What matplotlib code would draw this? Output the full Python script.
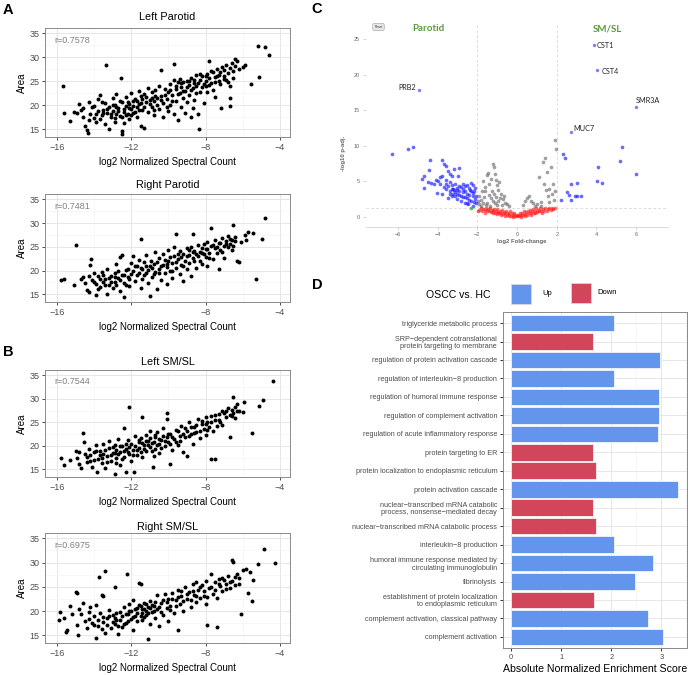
import matplotlib.pyplot as plt
from matplotlib.patches import Rectangle

plt.rcParams['font.family'] = ['Liberation Sans', 'DejaVu Sans']

# ---- Data ----------------------------------------------------------------
# A / B: log2 normalized spectral count vs. area, one list of (x, y) per gland
left_parotid = [
    (-15.7, 24.1), (-15.6, 18.4), (-15.3, 16.8), (-15.1, 18.7), (-14.9, 18.3), (-14.8, 20.2),
    (-14.7, 19.0), (-14.6, 17.6), (-14.5, 15.7), (-14.4, 14.9), (-14.35, 14.2), (-14.3, 20.6),
    (-14.2, 18.1), (-14.1, 19.6), (-14.0, 17.3), (-13.9, 16.6), (-13.8, 21.3), (-13.8, 18.8),
    (-13.7, 22.2), (-13.6, 17.9), (-13.5, 19.1), (-13.4, 16.2), (-13.4, 20.4), (-13.38, 28.3),
    (-13.3, 18.4), (-13.2, 15.0), (-13.2, 19.7), (-13.1, 17.5), (-13.0, 21.6), (-13.0, 18.9),
    (-12.9, 16.6), (-12.9, 20.1), (-12.8, 18.2), (-12.8, 22.4), (-12.7, 19.4), (-12.6, 17.8),
    (-12.55, 25.6), (-12.5, 14.1), (-12.5, 14.7), (-12.5, 20.7), (-12.4, 18.6), (-12.4, 16.3),
    (-12.3, 19.9), (-12.3, 21.8), (-12.2, 18.1), (-12.1, 20.3), (-12.1, 17.1), (-12.0, 19.2),
    (-12.0, 22.6), (-11.9, 20.9), (-11.9, 18.4), (-11.8, 21.4), (-11.7, 19.6), (-11.7, 17.6),
    (-11.6, 23.0), (-11.6, 20.2), (-11.5, 15.6), (-11.5, 21.9), (-11.4, 19.0), (-11.3, 15.3),
    (-11.3, 22.3), (-11.2, 20.6), (-11.1, 18.6), (-11.1, 23.6), (-11.0, 21.1), (-10.9, 19.7),
    (-10.9, 22.8), (-10.8, 17.9), (-10.8, 20.8), (-10.7, 23.2), (-10.6, 21.6), (-10.5, 19.2),
    (-10.5, 24.1), (-10.4, 27.3), (-10.4, 22.0), (-10.3, 20.4), (-10.3, 17.5), (-10.2, 23.5),
    (-10.1, 21.3), (-10.0, 18.8), (-10.0, 22.7), (-9.9, 24.4), (-9.9, 20.1), (-9.8, 22.1),
    (-9.7, 28.7), (-9.7, 25.2), (-9.7, 18.1), (-9.6, 23.3), (-9.6, 20.9), (-9.5, 24.8),
    (-9.5, 17.0), (-9.4, 22.6), (-9.4, 25.4), (-9.3, 19.6), (-9.3, 23.9), (-9.2, 21.6),
    (-9.2, 24.9), (-9.1, 18.4), (-9.1, 23.0), (-9.0, 25.1), (-9.0, 20.6), (-8.9, 24.2),
    (-8.9, 22.2), (-8.8, 17.6), (-8.8, 25.7), (-8.7, 23.6), (-8.7, 19.4), (-8.6, 24.7),
    (-8.6, 21.2), (-8.5, 26.4), (-8.5, 24.0), (-8.4, 18.1), (-8.37, 15.1), (-8.3, 25.2),
    (-8.3, 22.8), (-8.2, 23.9), (-8.2, 26.0), (-8.1, 20.5), (-8.0, 25.0), (-8.0, 24.1),
    (-7.9, 26.6), (-7.9, 22.7), (-7.8, 29.2), (-7.8, 25.6), (-7.7, 24.6), (-7.6, 26.9),
    (-7.6, 23.2), (-7.5, 25.9), (-7.5, 21.7), (-7.4, 27.6), (-7.3, 25.1), (-7.3, 26.3),
    (-7.2, 24.4), (-7.15, 19.5), (-7.1, 27.9), (-7.0, 26.1), (-7.0, 25.4), (-6.9, 28.4),
    (-6.8, 24.9), (-6.8, 26.8), (-6.7, 24.0), (-6.7, 21.5), (-6.66, 19.9), (-6.6, 28.9),
    (-6.5, 27.2), (-6.5, 25.6), (-6.43, 29.6), (-6.3, 29.3), (-6.2, 27.6), (-6.0, 28.0),
    (-5.9, 28.3), (-5.53, 24.4), (-5.12, 25.8), (-5.17, 32.4), (-4.8, 32.1), (-4.6, 30.4),
    (-14.6, 19.5), (-14.3, 17.0), (-14.0, 19.9), (-13.9, 18.2), (-13.7, 17.1), (-13.6, 20.6),
    (-13.5, 18.5), (-13.3, 19.3), (-13.1, 18.1), (-13.0, 20.0), (-12.9, 17.3), (-12.8, 19.7),
    (-12.7, 18.8), (-12.6, 20.9), (-12.5, 17.5), (-12.4, 19.3), (-12.3, 18.0), (-12.2, 20.6),
    (-12.1, 19.5), (-12.0, 18.0), (-11.9, 19.8), (-11.8, 18.7), (-11.7, 21.0), (-11.6, 19.0),
    (-11.5, 20.5), (-11.4, 21.3), (-11.3, 19.6), (-11.2, 21.8), (-11.0, 20.2), (-10.9, 21.6),
    (-10.8, 19.1), (-10.7, 22.0), (-10.6, 20.1), (-10.4, 21.1), (-10.2, 22.1), (-10.1, 19.6),
    (-9.9, 23.2), (-9.8, 21.0), (-9.6, 24.0), (-9.5, 22.3), (-9.3, 24.6), (-9.2, 22.9),
    (-9.0, 23.8), (-8.9, 25.0), (-8.8, 23.2), (-8.6, 25.3), (-8.5, 22.5), (-8.4, 24.6),
    (-8.3, 26.5), (-8.1, 24.5), (-8.0, 26.2), (-7.8, 24.2), (-7.7, 27.2), (-7.5, 24.8),
    (-7.4, 26.2), (-7.2, 27.0), (-7.0, 27.3), (-6.9, 25.2), (-6.7, 27.8), (-6.4, 28.2),
]

right_parotid = [
    (-15.8, 18.0), (-15.6, 18.3), (-15.1, 17.0), (-15.0, 25.3), (-14.7, 18.2), (-14.6, 18.6),
    (-14.4, 16.0), (-14.3, 15.6), (-14.2, 21.1), (-14.15, 22.5), (-14.1, 18.0), (-14.0, 19.4),
    (-13.9, 14.9), (-13.9, 17.2), (-13.8, 18.8), (-13.7, 16.6), (-13.6, 19.8), (-13.5, 17.6),
    (-13.4, 18.3), (-13.3, 15.1), (-13.3, 20.4), (-13.2, 17.0), (-13.1, 18.9), (-13.0, 16.3),
    (-12.9, 19.5), (-12.9, 17.7), (-12.8, 21.3), (-12.7, 18.4), (-12.6, 15.8), (-12.6, 22.8),
    (-12.5, 19.1), (-12.5, 23.3), (-12.4, 14.4), (-12.4, 17.3), (-12.3, 20.2), (-12.2, 18.7),
    (-12.1, 16.7), (-12.0, 21.6), (-12.0, 19.3), (-11.9, 23.1), (-11.8, 17.9), (-11.7, 20.9),
    (-11.7, 19.0), (-11.6, 22.3), (-11.5, 16.4), (-11.46, 26.7), (-11.4, 20.3), (-11.4, 18.2),
    (-11.3, 21.8), (-11.2, 19.6), (-11.2, 23.3), (-11.1, 17.3), (-11.0, 20.9), (-11.0, 14.7),
    (-10.95, 22.0), (-10.9, 18.7), (-10.8, 21.4), (-10.7, 19.8), (-10.7, 24.0), (-10.6, 16.2),
    (-10.5, 22.6), (-10.5, 20.3), (-10.4, 18.0), (-10.3, 21.2), (-10.3, 23.4), (-10.2, 19.4),
    (-10.1, 20.8), (-10.1, 17.1), (-10.0, 22.1), (-10.0, 24.4), (-9.9, 20.0), (-9.8, 21.6),
    (-9.8, 18.4), (-9.7, 23.0), (-9.7, 25.0), (-9.6, 27.7), (-9.6, 20.6), (-9.5, 22.4),
    (-9.4, 19.3), (-9.4, 24.1), (-9.3, 21.2), (-9.2, 23.5), (-9.2, 17.9), (-9.1, 22.0),
    (-9.0, 24.7), (-9.0, 20.4), (-8.9, 23.2), (-8.9, 21.5), (-8.8, 18.8), (-8.8, 25.0),
    (-8.7, 27.7), (-8.7, 22.6), (-8.6, 24.1), (-8.5, 23.4), (-8.5, 20.6), (-8.4, 25.3),
    (-8.3, 22.1), (-8.3, 24.0), (-8.2, 21.3), (-8.2, 23.8), (-8.1, 25.6), (-8.0, 22.9),
    (-8.0, 24.6), (-7.9, 21.0), (-7.9, 26.0), (-7.8, 23.8), (-7.7, 28.9), (-7.7, 25.2),
    (-7.6, 22.5), (-7.5, 24.7), (-7.5, 26.4), (-7.4, 23.6), (-7.3, 20.4), (-7.3, 25.7),
    (-7.2, 24.3), (-7.1, 26.8), (-7.0, 25.1), (-7.0, 22.7), (-6.9, 26.2), (-6.8, 24.9),
    (-6.8, 27.2), (-6.7, 25.6), (-6.6, 26.5), (-6.5, 29.5), (-6.5, 25.1), (-6.4, 27.0),
    (-6.3, 22.0), (-6.2, 21.9), (-6.1, 26.1), (-5.9, 27.5), (-5.8, 26.5), (-5.7, 28.2),
    (-5.45, 28.0), (-5.3, 18.3), (-4.95, 26.7), (-4.8, 31.1),
    (-14.5, 17.4), (-14.3, 18.9), (-14.0, 17.6), (-13.8, 16.1), (-13.7, 18.3), (-13.5, 19.0),
    (-13.4, 16.9), (-13.2, 18.5), (-13.1, 17.6), (-12.9, 18.6), (-12.8, 16.9), (-12.7, 19.9),
    (-12.6, 18.0), (-12.4, 19.0), (-12.3, 17.0), (-12.2, 20.3), (-12.1, 18.3), (-11.9, 19.9),
    (-11.8, 21.0), (-11.6, 19.5), (-11.5, 20.6), (-11.3, 19.1), (-11.2, 21.0), (-11.1, 20.1),
    (-10.9, 20.5), (-10.8, 19.2), (-10.6, 21.8), (-10.5, 19.6), (-10.4, 20.9), (-10.2, 22.2),
    (-10.1, 21.4), (-9.9, 22.8), (-9.8, 19.9), (-9.6, 21.9), (-9.5, 23.5), (-9.3, 22.8),
    (-9.2, 20.9), (-9.0, 23.0), (-8.9, 24.4), (-8.7, 23.9), (-8.6, 22.0), (-8.4, 23.1),
    (-8.2, 24.8), (-8.1, 23.5), (-7.9, 24.5), (-7.8, 22.7), (-7.6, 25.4), (-7.4, 24.9),
    (-7.2, 25.8), (-7.1, 24.0), (-6.9, 25.5), (-6.7, 26.7), (-6.6, 24.4), (-6.4, 26.3),
]

left_smsl = [
    (-15.77, 17.5), (-15.6, 16.0), (-15.3, 17.1), (-15.0, 18.9), (-14.9, 17.4), (-14.8, 16.2),
    (-14.7, 15.3), (-14.6, 22.7), (-14.55, 20.9), (-14.5, 18.3), (-14.4, 17.6), (-14.3, 19.4),
    (-14.2, 16.8), (-14.1, 15.6), (-14.0, 18.7), (-13.9, 20.1), (-13.85, 14.4), (-13.8, 17.3),
    (-13.7, 19.0), (-13.6, 16.4), (-13.5, 20.4), (-13.5, 18.2), (-13.4, 15.4), (-13.3, 17.8),
    (-13.2, 19.6), (-13.2, 21.0), (-13.1, 16.9), (-13.0, 18.5), (-12.9, 14.0), (-12.9, 20.2),
    (-12.8, 17.4), (-12.8, 19.1), (-12.7, 21.5), (-12.6, 16.0), (-12.6, 18.7), (-12.5, 20.0),
    (-12.4, 23.7), (-12.4, 17.7), (-12.3, 19.4), (-12.27, 14.5), (-12.2, 21.2), (-12.1, 28.2),
    (-12.1, 18.3), (-12.0, 20.5), (-12.0, 16.7), (-11.9, 19.2), (-11.85, 14.5), (-11.8, 22.1),
    (-11.7, 18.0), (-11.6, 20.8), (-11.6, 19.5), (-11.5, 21.7), (-11.4, 26.1), (-11.4, 17.6),
    (-11.3, 20.2), (-11.2, 22.4), (-11.2, 18.9), (-11.1, 21.0), (-11.0, 19.7), (-11.0, 23.2),
    (-10.9, 20.6), (-10.85, 15.6), (-10.8, 17.8), (-10.7, 21.8), (-10.7, 19.3), (-10.6, 22.9),
    (-10.5, 20.5), (-10.5, 18.4), (-10.4, 21.3), (-10.3, 23.8), (-10.2, 19.9), (-10.1, 26.9),
    (-10.1, 25.8), (-10.1, 21.9), (-10.0, 20.8), (-9.9, 16.1), (-9.9, 22.5), (-9.8, 19.2),
    (-9.7, 21.4), (-9.6, 23.4), (-9.5, 20.2), (-9.4, 22.2), (-9.3, 24.3), (-9.2, 18.7),
    (-9.1, 21.8), (-9.0, 17.9), (-9.0, 23.1), (-8.9, 25.0), (-8.8, 22.5), (-8.7, 20.3),
    (-8.6, 24.1), (-8.5, 23.0), (-8.4, 25.6), (-8.3, 21.6), (-8.2, 24.7), (-8.1, 23.5),
    (-8.0, 26.1), (-8.0, 22.3), (-7.9, 25.0), (-7.8, 24.0), (-7.7, 17.3), (-7.7, 26.3),
    (-7.6, 23.2), (-7.5, 25.5), (-7.47, 17.3), (-7.4, 24.3), (-7.3, 26.8), (-7.2, 25.1),
    (-7.1, 24.5), (-7.0, 27.0), (-6.9, 26.2), (-6.8, 28.0), (-6.7, 21.8), (-6.7, 26.6),
    (-6.6, 27.6), (-6.5, 30.4), (-6.5, 27.0), (-6.4, 28.3), (-6.4, 26.0), (-6.3, 28.8),
    (-6.2, 27.3), (-6.0, 27.1), (-5.95, 29.3), (-5.5, 22.8), (-5.14, 28.5), (-4.9, 29.7),
    (-4.35, 33.7),
    (-14.8, 18.6), (-14.4, 16.6), (-14.2, 18.0), (-14.0, 17.1), (-13.9, 19.0), (-13.7, 18.1),
    (-13.6, 17.4), (-13.4, 19.2), (-13.3, 16.6), (-13.1, 18.0), (-13.0, 19.8), (-12.9, 18.5),
    (-12.8, 16.3), (-12.7, 18.2), (-12.6, 19.9), (-12.5, 17.3), (-12.4, 19.0), (-12.3, 20.5),
    (-12.2, 18.6), (-12.1, 19.8), (-11.9, 18.0), (-11.8, 20.0), (-11.7, 19.1), (-11.6, 21.3),
    (-11.5, 18.6), (-11.4, 20.6), (-11.3, 19.3), (-11.2, 21.0), (-11.1, 20.2), (-11.0, 21.6),
    (-10.9, 19.0), (-10.8, 20.9), (-10.7, 22.4), (-10.6, 20.2), (-10.5, 21.4), (-10.4, 19.6),
    (-10.3, 22.0), (-10.2, 21.0), (-10.0, 22.6), (-9.9, 20.4), (-9.8, 21.9), (-9.6, 20.8),
    (-9.5, 23.1), (-9.4, 21.0), (-9.2, 22.6), (-9.1, 23.7), (-8.9, 22.0), (-8.8, 24.0),
    (-8.6, 22.8), (-8.5, 24.5), (-8.3, 23.2), (-8.2, 25.3), (-8.0, 24.6), (-7.9, 23.3),
    (-7.7, 25.0), (-7.5, 26.5), (-7.3, 25.4), (-7.1, 27.5), (-6.9, 27.5), (-6.6, 26.3),
    (-6.3, 27.4),
]

right_smsl = [
    (-15.87, 18.2), (-15.86, 19.8), (-15.6, 18.6), (-15.5, 15.7), (-15.45, 16.0), (-15.3, 21.0),
    (-15.2, 19.4), (-15.0, 24.0), (-14.95, 23.7), (-14.9, 17.1), (-14.85, 15.1), (-14.8, 20.5),
    (-14.7, 19.3), (-14.6, 21.6), (-14.5, 18.0), (-14.4, 16.4), (-14.3, 19.9), (-14.2, 20.9),
    (-14.1, 17.5), (-14.0, 18.9), (-13.9, 14.5), (-13.9, 21.2), (-13.8, 16.9), (-13.74, 27.0),
    (-13.7, 19.5), (-13.6, 23.3), (-13.55, 23.1), (-13.5, 17.8), (-13.4, 28.2), (-13.4, 15.5),
    (-13.3, 18.6), (-13.2, 20.2), (-13.1, 16.4), (-13.0, 19.1), (-12.9, 24.9), (-12.9, 17.3),
    (-12.8, 18.1), (-12.7, 15.2), (-12.6, 19.8), (-12.5, 16.8), (-12.5, 18.9), (-12.4, 20.8),
    (-12.3, 17.6), (-12.25, 27.6), (-12.2, 19.3), (-12.1, 21.5), (-12.0, 18.4), (-12.0, 20.1),
    (-11.9, 16.0), (-11.9, 22.2), (-11.8, 19.0), (-11.7, 20.6), (-11.7, 17.9), (-11.6, 25.7),
    (-11.5, 25.6), (-11.5, 21.0), (-11.4, 19.6), (-11.4, 18.2), (-11.3, 20.4), (-11.2, 21.4),
    (-11.2, 19.1), (-11.1, 14.3), (-11.1, 20.8), (-11.0, 22.0), (-11.0, 17.4), (-10.9, 19.9),
    (-10.8, 21.0), (-10.7, 18.6), (-10.6, 20.4), (-10.6, 23.4), (-10.5, 16.9), (-10.4, 21.7),
    (-10.3, 19.2), (-10.2, 23.6), (-10.1, 20.6), (-10.0, 18.0), (-10.0, 22.5), (-9.9, 21.0),
    (-9.8, 23.8), (-9.7, 19.6), (-9.6, 22.3), (-9.5, 16.1), (-9.5, 24.3), (-9.4, 21.5),
    (-9.3, 23.0), (-9.2, 20.1), (-9.1, 25.0), (-9.0, 22.4), (-8.9, 24.0), (-8.8, 20.8),
    (-8.7, 25.5), (-8.6, 23.3), (-8.5, 21.8), (-8.5, 26.0), (-8.4, 24.4), (-8.3, 22.6),
    (-8.2, 25.3), (-8.1, 23.0), (-8.0, 26.2), (-8.0, 21.4), (-7.9, 17.1), (-7.8, 24.7),
    (-7.7, 27.6), (-7.6, 23.6), (-7.5, 25.9), (-7.4, 22.7), (-7.36, 16.6), (-7.3, 26.6),
    (-7.2, 25.2), (-7.1, 24.1), (-7.0, 26.5), (-6.9, 25.6), (-6.8, 27.2), (-6.7, 24.8),
    (-6.6, 26.1), (-6.55, 30.6), (-6.5, 30.2), (-6.4, 25.4), (-6.3, 27.7), (-6.2, 26.8),
    (-6.07, 19.4), (-6.0, 28.4), (-5.8, 28.6), (-5.7, 23.8), (-5.6, 28.1), (-5.5, 22.1),
    (-5.43, 26.4), (-5.17, 29.6), (-4.87, 32.8), (-4.28, 30.0),
    (-14.3, 18.4), (-14.0, 17.2), (-13.8, 18.1), (-13.6, 16.3), (-13.5, 18.8), (-13.3, 17.2),
    (-13.2, 19.0), (-13.0, 17.8), (-12.9, 18.6), (-12.8, 19.5), (-12.7, 17.0), (-12.6, 18.2),
    (-12.4, 17.4), (-12.3, 19.4), (-12.2, 18.0), (-12.1, 20.0), (-11.9, 18.8), (-11.8, 20.4),
    (-11.7, 19.5), (-11.6, 21.2), (-11.5, 19.0), (-11.4, 20.5), (-11.3, 21.6), (-11.3, 18.8),
    (-11.2, 20.0), (-11.1, 19.5), (-11.0, 20.6), (-10.9, 21.3), (-10.8, 20.1), (-10.7, 21.9),
    (-10.5, 20.9), (-10.4, 19.8), (-10.3, 22.3), (-10.1, 21.8), (-9.9, 20.2), (-9.8, 22.4),
    (-9.6, 21.0), (-9.5, 22.8), (-9.3, 24.2), (-9.2, 22.0), (-9.0, 23.6), (-8.8, 22.2),
    (-8.7, 24.2), (-8.5, 23.0), (-8.3, 25.0), (-8.1, 24.2), (-7.9, 22.9), (-7.7, 25.0),
    (-7.5, 24.3), (-7.3, 25.5), (-7.1, 26.8), (-6.9, 24.6), (-6.7, 26.0), (-6.4, 27.0),
    (-6.2, 25.5),
]

r_values = ["r=0.7578", "r=0.7481", "r=0.7544", "r=0.6975"]
gland_titles = ["Left Parotid", "Right Parotid", "Left SM/SL", "Right SM/SL"]

# C: volcano plot, (log2 fold-change, -log10 p-adj.)
volcano_blue = [
    (-6.3, 8.8), (-5.5, 9.6), (-5.25, 9.9), (-4.4, 8.0), (-4.45, 6.6), (-4.8, 5.4), (-4.7, 5.7),
    (-4.5, 4.9), (-4.1, 5.2), (-4.05, 3.4), (-4.7, 4.1), (-4.35, 4.8), (-3.8, 8.0), (-3.7, 7.5),
    (-3.6, 7.2), (-3.5, 6.5), (-3.4, 6.0), (-3.15, 6.8), (-2.9, 6.9), (-3.3, 5.8), (-3.8, 5.7),
    (-4.0, 5.0), (-3.9, 4.6), (-3.7, 4.2), (-3.6, 3.9), (-3.5, 4.4), (-3.4, 3.6), (-3.3, 4.0),
    (-3.2, 3.3), (-3.1, 4.6), (-3.0, 3.8), (-2.95, 5.7), (-2.9, 3.1), (-2.8, 4.2), (-2.7, 3.5),
    (-2.6, 2.8), (-2.5, 4.5), (-2.5, 3.2), (-2.4, 2.4), (-2.3, 4.8), (-2.3, 3.6), (-2.2, 2.9),
    (-2.15, 2.1), (-2.1, 4.1), (-2.05, 3.0), (-3.0, 2.5), (-2.8, 2.2), (-3.5, 2.7), (-3.8, 3.2),
    (-3.15, 3.8), (-2.7, 3.9), (-2.6, 4.4), (-3.3, 3.0), (-2.45, 1.8), (-2.2, 1.6), (-4.2, 4.6),
    (-3.9, 5.6), (-3.6, 5.2), (-2.35, 3.8), (-2.9, 4.3), (-3.4, 4.9), (-2.6, 2.0), (-3.1, 2.9),
    (-3.3, 4.5), (-3.2, 3.9), (-3.1, 3.5), (-3.0, 4.1), (-2.9, 3.6), (-2.8, 3.0), (-2.7, 4.6),
    (-2.6, 3.6), (-2.5, 2.6), (-2.4, 3.1), (-2.3, 2.2), (-2.2, 3.4), (-2.1, 2.5), (-2.05, 1.9),
    (-2.4, 4.1), (-2.7, 2.8), (-3.4, 3.2), (-3.6, 4.6), (-3.0, 3.3), (-2.2, 4.5), (-2.5, 2.0),
    (-2.15, 3.7),
    (2.3, 8.8), (2.4, 8.3), (2.7, 4.6), (3.0, 4.8), (2.5, 3.5), (2.6, 3.1), (2.2, 2.4),
    (2.7, 2.4), (2.9, 3.0), (3.0, 2.9), (3.2, 2.9), (4.1, 7.0), (4.05, 5.0), (4.3, 4.8),
    (5.2, 7.8), (5.3, 9.9), (6.0, 6.0),
]
volcano_gray = [
    (-1.9, 3.0), (-1.8, 2.4), (-1.7, 1.9), (-1.6, 3.6), (-1.5, 5.9), (-1.45, 6.2), (-1.3, 5.4),
    (-1.2, 7.4), (-1.15, 7.0), (-1.1, 6.0), (-1.05, 5.2), (-1.0, 4.5), (-0.95, 3.8), (-0.9, 4.9),
    (-0.85, 2.7), (-0.8, 3.3), (-0.7, 2.5), (-0.6, 2.0), (-0.5, 1.8), (-0.4, 1.6), (-1.7, 5.0),
    (-1.6, 4.2), (-1.4, 3.1), (-1.3, 2.6), (-1.2, 2.2), (-1.1, 1.9), (-1.0, 1.7), (-1.9, 1.8),
    (-1.8, 1.6), (-1.5, 2.0), (-1.4, 4.6), (-1.25, 3.7), (-1.15, 3.2), (-0.95, 2.3), (-0.75, 1.7),
    (-1.55, 1.7), (-1.35, 1.5), (-1.65, 2.8), (-0.65, 2.9), (-1.75, 3.7), (-1.95, 2.2), (-1.05, 2.8),
    (0.3, 1.7), (0.5, 2.6), (0.6, 3.0), (0.7, 2.2), (0.8, 1.9), (0.9, 1.6), (1.0, 1.8),
    (1.1, 5.6), (1.2, 1.5), (1.3, 7.7), (1.4, 8.3), (1.45, 3.8), (1.5, 6.3), (1.55, 2.9),
    (1.6, 4.0), (1.7, 7.0), (1.75, 3.3), (1.8, 4.6), (1.85, 2.4), (1.9, 10.8), (1.95, 9.6),
    (1.9, 3.7), (1.6, 2.1), (0.4, 2.2), (1.35, 4.6), (1.2, 2.1),
]
volcano_red = [
    (-1.9, 1.0), (-1.8, 1.2), (-1.75, 0.9), (-1.7, 1.1), (-1.6, 1.0), (-1.55, 1.25), (-1.5, 0.8),
    (-1.45, 1.1), (-1.4, 0.9), (-1.35, 1.2), (-1.3, 0.7), (-1.25, 1.0), (-1.2, 0.8), (-1.15, 1.15),
    (-1.1, 0.6), (-1.05, 0.9), (-1.0, 1.1), (-0.95, 0.7), (-0.9, 0.5), (-0.85, 0.9), (-0.8, 0.6),
    (-0.75, 1.0), (-0.7, 0.4), (-0.65, 0.7), (-0.6, 0.5), (-0.55, 0.9), (-0.5, 0.3), (-0.45, 0.6),
    (-0.4, 0.4), (-0.35, 0.8), (-0.3, 0.2), (-0.25, 0.5), (-0.2, 0.3), (-0.15, 0.6), (-0.1, 0.15),
    (-0.05, 0.35), (0.0, 0.1), (0.05, 0.3), (0.1, 0.2), (0.15, 0.5), (0.2, 0.25), (0.25, 0.6),
    (0.3, 0.35), (0.35, 0.8), (0.4, 0.45), (0.45, 0.7), (0.5, 0.3), (0.55, 0.9), (0.6, 0.5),
    (0.65, 1.0), (0.7, 0.6), (0.75, 0.8), (0.8, 1.1), (0.85, 0.5), (0.9, 0.9), (0.95, 1.2),
    (1.0, 0.7), (1.05, 1.0), (1.1, 0.8), (1.15, 1.2), (1.2, 0.9), (1.3, 1.1), (1.35, 0.8),
    (1.4, 1.2), (1.5, 0.9), (1.55, 1.1), (1.6, 1.3), (1.7, 1.0), (1.75, 1.2), (1.8, 1.1),
    (1.9, 1.25), (-0.6, 0.2), (-0.4, 0.1), (-0.2, 0.05), (0.2, 0.05), (0.4, 0.15), (-1.0, 0.4),
    (-0.8, 0.3), (0.7, 0.3), (0.9, 0.5), (-1.2, 0.5), (1.25, 0.5), (-1.6, 0.6), (-1.95, 0.9),
]
volcano_green = [(-2.3, 1.2)]
gene_names = ["CST1", "CST4", "PRB2", "SMR3A", "MUC7"]
gene_fc = [3.85, 4.05, -4.95, 6.0, 2.7]
gene_p = [24.1, 20.6, 17.8, 15.5, 11.9]

# D: GSEA, OSCC vs. HC
go_terms = [
    "triglyceride metabolic process",
    "SRP\u2212dependent cotranslational\nprotein targeting to membrane",
    "regulation of protein activation cascade",
    "regulation of interleukin\u22128 production",
    "regulation of humoral immune response",
    "regulation of complement activation",
    "regulation of acute inflammatory response",
    "protein targeting to ER",
    "protein localization to endoplasmic reticulum",
    "protein activation cascade",
    "nuclear\u2212transcribed mRNA catabolic\nprocess, nonsense\u2212mediated decay",
    "nuclear\u2212transcribed mRNA catabolic process",
    "interleukin\u22128 production",
    "humoral immune response mediated by\ncirculating immunoglobulin",
    "fibrinolysis",
    "establishment of protein localization\nto endoplasmic reticulum",
    "complement activation, classical pathway",
    "complement activation",
]
go_nes = [2.05, 1.63, 2.97, 2.05, 2.95, 2.95, 2.93, 1.64, 1.69,
          3.34, 1.64, 1.69, 2.05, 2.84, 2.47, 1.66, 2.74, 3.03]
go_dir = ["Up", "Down", "Up", "Up", "Up", "Up", "Up", "Down", "Down",
          "Up", "Down", "Down", "Up", "Up", "Up", "Down", "Up", "Up"]

UP, DOWN = "#6495ED", "#D1465B"

# ---- Figure setup --------------------------------------------------------
W, H = 690, 675
fig = plt.figure(figsize=(W / 100, H / 100), dpi=100)


def box(l, t, r, b):
    return [l / W, 1 - b / H, (r - l) / W, (b - t) / H]


def fx(x):
    return x / W


def fy(y):
    return 1 - y / H


# ---- A / B scatter panels ------------------------------------------------
scatter_boxes = [(45, 28, 290, 137), (45, 194, 290, 302),
                 (45, 370, 290, 477), (45, 533, 290, 643)]
title_ys = [17, 185, 362, 527]
datasets = [left_parotid, right_parotid, left_smsl, right_smsl]

for i, (rect, pts) in enumerate(zip(scatter_boxes, datasets)):
    ax = fig.add_axes(box(*rect))
    xs = [p[0] for p in pts]
    ys = [p[1] for p in pts]
    ax.scatter(xs, ys, s=8, c="black", linewidths=0, zorder=3)
    ax.set_xlim(-16.65, -3.45)
    ax.set_ylim(13.4, 36.1)
    ax.set_xticks([-16, -12, -8, -4])
    xl = ["\u221216", "\u221212", "\u22128", "\u22124"]
    if i == 1:
        xl[1] = ""          # label is missing in the source figure
    ax.set_xticklabels(xl)
    ax.set_xticks([-14, -10, -6], minor=True)
    ax.set_yticks([15, 20, 25, 30, 35])
    ax.set_yticks([17.5, 22.5, 27.5, 32.5], minor=True)
    ax.grid(which="major", color="#e6e6e6", linewidth=0.7)
    ax.grid(which="minor", color="#f2f2f2", linewidth=0.4)
    ax.set_axisbelow(True)
    ax.tick_params(which="minor", length=0)
    ax.tick_params(which="major", length=2.5, width=0.6, color="#333333",
                   labelsize=6.5, labelcolor="#4d4d4d", pad=1.5)
    for sp in ax.spines.values():
        sp.set_color("#8a8a8a")
        sp.set_linewidth(0.7)
    ax.set_xlabel("log2 Normalized Spectral Count", fontsize=7, labelpad=4)
    ax.set_ylabel("Area", fontsize=7, labelpad=2)
    ax.text(0.04, 0.93, r_values[i], transform=ax.transAxes, fontsize=6.5,
            color="#808080", va="top")
    fig.text(fx(167.5), fy(title_ys[i]), gland_titles[i], fontsize=7.8,
             ha="center", va="center")

# ---- C volcano -----------------------------------------------------------
axC = fig.add_axes(box(365.7, 23.3, 668, 226.7))
for pts, col, a in [(volcano_red, "#ff1414", 0.6), (volcano_gray, "#555555", 0.55),
                    (volcano_blue, "#1a1aff", 0.65), (volcano_green, "#3aa63a", 0.8)]:
    axC.scatter([p[0] for p in pts], [p[1] for p in pts], s=7, c=col,
                alpha=a, linewidths=0, zorder=3)
axC.scatter(gene_fc, gene_p, s=6, c="#7f7fff", linewidths=0, zorder=3)
offsets = {"CST1": (0.17, 0.0, "left"), "CST4": (0.19, -0.1, "left"),
           "PRB2": (-0.16, 0.4, "right"), "SMR3A": (-0.02, 0.8, "left"),
           "MUC7": (0.14, 0.5, "left")}
for name, gx, gy in zip(gene_names, gene_fc, gene_p):
    dx, dy, ha = offsets[name]
    axC.text(gx + dx, gy + dy, name, fontsize=5.2, ha=ha, va="center",
             family=["Lato", "DejaVu Sans"], color="#222222")
axC.axvline(-2, color="#d0d0d0", lw=0.5, ls=(0, (4, 3)), zorder=1)
axC.axvline(2, color="#d0d0d0", lw=0.5, ls=(0, (4, 3)), zorder=1)
axC.axhline(1.3, color="#d0d0d0", lw=0.5, ls=(0, (4, 3)), zorder=1)
axC.set_xlim(-7.62, 7.6)
axC.set_ylim(-1.36, 27.2)
axC.set_xticks([-6, -4, -2, 0, 2, 4, 6])
axC.set_yticks([0, 5, 10, 15, 20, 25])
axC.tick_params(labelsize=4, labelcolor="#666666", length=2, width=0.4,
                color="#bbbbbb", pad=2)
for s in ("top", "right", "left"):
    axC.spines[s].set_visible(False)
axC.spines["bottom"].set_color("#cccccc")
axC.spines["bottom"].set_linewidth(0.5)
axC.text(-4.47, 26.4, "Parotid", fontsize=7, fontweight="bold", color="#5b9a3c",
         ha="center", va="center", family=["Lato", "DejaVu Sans"])
axC.text(4.57, 26.4, "SM/SL", fontsize=7, fontweight="bold", color="#5b9a3c",
         ha="center", va="center", family=["Lato", "DejaVu Sans"])
fig.text(fx(378.5), fy(27), "Reset", fontsize=2.3, ha="center", va="center",
         color="#333333",
         bbox=dict(boxstyle="round,pad=0.5", fc="#e8e8e8", ec="#9a9a9a", lw=0.4))
fig.text(fx(522), fy(242), "log2 Fold-change", fontsize=4.3, fontweight="bold",
         color="#666666", ha="center", va="center")
fig.text(fx(343), fy(153), "-log10 p-adj.", fontsize=4.3, fontweight="bold",
         color="#666666", ha="center", va="center", rotation=90)

# ---- D GSEA bars ---------------------------------------------------------
axD = fig.add_axes(box(502.7, 312, 687, 648))
ypos = list(range(len(go_terms)))
bar_colors = [UP if d == "Up" else DOWN for d in go_dir]
axD.barh(ypos, go_nes, height=0.9, color=bar_colors, edgecolor="white",
         linewidth=0.5, zorder=3)
axD.set_ylim(17.6, -0.6)
axD.set_xlim(-0.167, 3.51)
axD.set_yticks(ypos)
axD.set_yticklabels(go_terms, fontsize=5.2, color="#4d4d4d", linespacing=1.1)
axD.set_xticks([0, 1, 2, 3])
axD.set_xticks([0.5, 1.5, 2.5, 3.5], minor=True)
axD.grid(which="major", color="#e6e6e6", linewidth=0.7)
axD.grid(which="minor", axis="x", color="#f2f2f2", linewidth=0.4)
axD.set_axisbelow(True)
axD.tick_params(which="minor", length=0)
axD.tick_params(which="major", length=2.5, width=0.7, color="#333333",
                labelsize=5.5, labelcolor="#4d4d4d", pad=1.5)
axD.tick_params(axis="y", labelsize=5.2)
for sp in axD.spines.values():
    sp.set_color("#8a8a8a")
    sp.set_linewidth(0.7)
fig.text(fx(595), fy(669), "Absolute Normalized Enrichment Score", fontsize=7.6,
         ha="center", va="center")

# legend drawn by hand above the panel
fig.text(fx(458), fy(295), "OSCC vs. HC", fontsize=7.6, ha="center", va="center")
for (l, t), col in [((511, 284), UP), ((571, 283), DOWN)]:
    fig.add_artist(Rectangle((fx(l), fy(t + 20)), 20 / W, 20 / H, transform=fig.transFigure,
                             facecolor=col, edgecolor="#dddddd", linewidth=0.5))
fig.text(fx(542), fy(294), "Up", fontsize=5.5, ha="left", va="center")
fig.text(fx(597), fy(293), "Down", fontsize=5.5, ha="left", va="center")

# ---- panel letters -------------------------------------------------------
for letter, x, y in [("A", 8, 10), ("B", 8, 352), ("C", 317, 9), ("D", 317, 285)]:
    fig.text(fx(x), fy(y), letter, fontsize=10.5, fontweight="bold",
             ha="center", va="center")

fig.savefig("out.png", dpi=100)
